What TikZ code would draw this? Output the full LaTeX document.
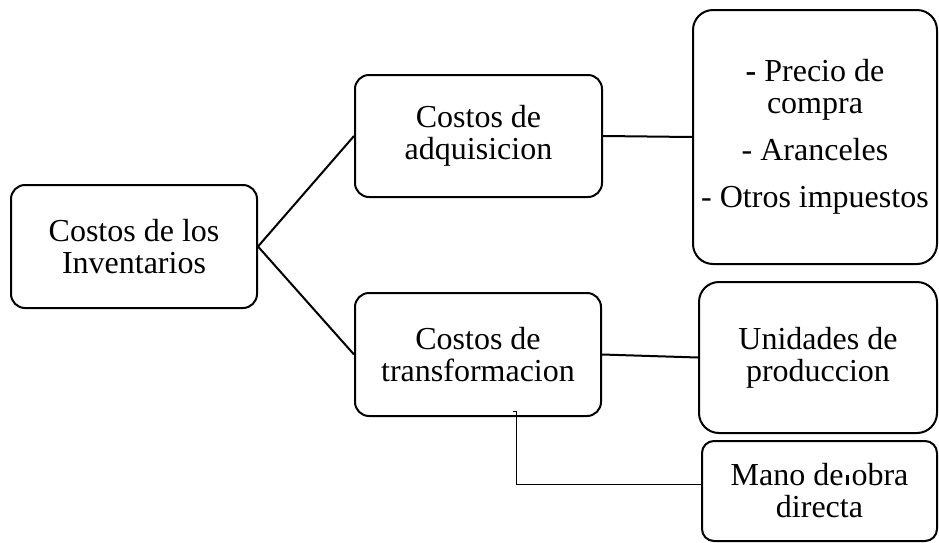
\documentclass[tikz,border=0pt]{standalone}
\usepackage{fontspec}
\setmainfont{Liberation Serif}
\usetikzlibrary{arrows.meta}

\begin{document}
\begin{tikzpicture}[x=0.5pt, y=-0.5pt,
  caja/.style={draw, line width=1pt, rounded corners=7pt, align=center, inner sep=0pt,
    font=\fontsize{16}{16}\selectfont},
  enlace/.style={line width=1pt},
  guia/.style={line width=0.5pt}]
\useasboundingbox (0,0) rectangle (939,542); % 전체 크기

\path node[caja, minimum width=123pt, minimum height=61.5pt] at (134,246.5) (inv) {Costos de los\\Inventarios}
  node[caja, minimum width=123.5pt, minimum height=61pt] at (478.5,136) (adq) {Costos de\\adquisicion}
  node[caja, minimum width=123pt, minimum height=61.5pt] at (478,354.5) (trans) {Costos de\\transformacion};

%% 오른쪽 상자들
\path node[caja, rounded corners=10pt, minimum width=122pt, minimum height=127pt] at (815,137) (compra)
    {\textbf{-} Precio de\\compra\\[7.5pt]- Aranceles\\[7.5pt]- Otros impuestos}
  node[caja, rounded corners=10pt, minimum width=119pt, minimum height=75.5pt] at (818,357.5) (unid) {Unidades de\\produccion}
  node[caja, rounded corners=6pt, minimum width=117.5pt, minimum height=50pt] at (819.5,491) (mano)
    {Mano de\makebox[0pt][l]{\hspace{1.2pt}\rule[0.3pt]{1.4pt}{5pt}} obra\\directa};

\draw[enlace] (inv.east) -- (adq.west);
\draw[enlace] (inv.east) -- (trans.west);
\draw[enlace] (adq.east) -- (compra.west);
\draw[enlace] (trans.east) -- (unid.west);

\coordinate (marca) at (513,411); % 작은 꺾은선 시작
\draw[guia] (marca) -- ++(3,0) |- ([yshift=3.5pt]mano.west);
\end{tikzpicture}
\end{document}
